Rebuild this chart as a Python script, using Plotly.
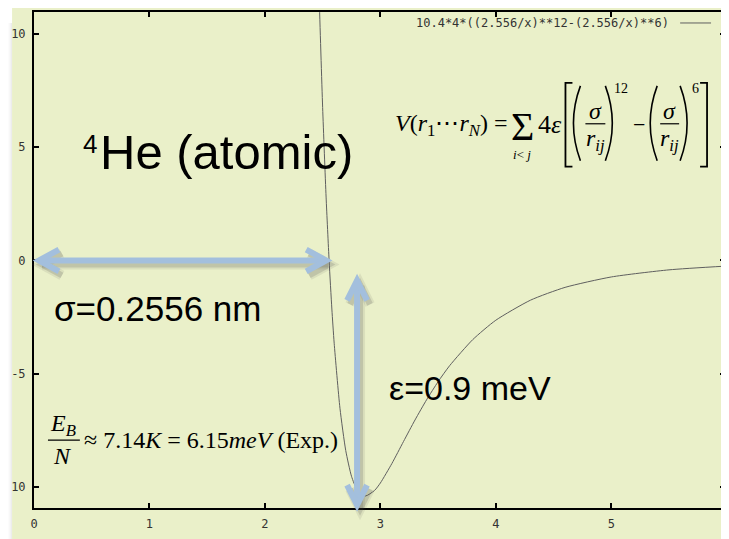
import plotly.graph_objects as go

# ---- data (r in Angstrom, V in K) ----
r_vals = [2.40, 2.45, 2.47, 2.50, 2.53, 2.556, 2.58, 2.60, 2.65, 2.70, 2.75, 2.80,
          2.87, 2.95, 3.00, 3.10, 3.20, 3.30, 3.40, 3.50, 3.60, 3.80, 4.00, 4.30,
          4.60, 5.00, 5.50, 6.00]
v_vals = [27.87, 15.52, 11.65, 6.755, 2.798, 0.0, -2.145, -3.655, -6.525, -8.391,
          -9.529, -10.143, -10.40, -10.154, -9.826, -8.964, -7.998, -7.043, -6.154,
          -5.353, -4.646, -3.496, -2.639, -1.754, -1.188, -0.729, -0.415, -0.247]
x_ticks = [0, 1, 2, 3, 4, 5, 6]
x_tick_labels = ["0", "1", "2", "3", "4", "5", "6"]
y_ticks = [-10, -5, 0, 5, 10]
y_tick_labels = ["10", "-5", "0", "5", "10"]
series_name = "10.4*4*((2.556/x)**12-(2.556/x)**6)"

# ---- layout geometry (page has an 8px body margin; coordinates below are page pixels) ----
OFF = 8
W, H = 729 - OFF, 539 - OFF
L, R, T, B = 34 - OFF, 2, 11 - OFF, 31
PW, PH = W - L - R, H - T - B
BG = "rgb(234,240,201)"
ARROW = "rgb(163,191,221)"


def px(x):
    return (x - OFF - L) / PW


def py(y):
    return (T + PH - (y - OFF)) / PH


fig = go.Figure()
fig.add_trace(go.Scatter(x=r_vals, y=v_vals, mode="lines", name=series_name,
                         line=dict(color="#5f5f5f", width=1, shape="spline", smoothing=0.6),
                         showlegend=False, hoverinfo="skip"))

shapes = []
# background panel and left shadow
shapes.append(dict(type="rect", xref="paper", yref="paper", x0=px(12), x1=px(740),
                   y0=py(7), y1=py(545), fillcolor=BG, line=dict(width=0), layer="below"))
for i, a in enumerate([0.02, 0.03, 0.04, 0.05]):
    shapes.append(dict(type="rect", xref="paper", yref="paper", x0=px(8 + i), x1=px(12),
                       y0=py(22), y1=py(545), fillcolor="rgba(120,120,120,%.2f)" % a,
                       line=dict(width=0), layer="below"))


def pathp(pts):
    return "M " + " L ".join("%.5f,%.5f" % (px(x), py(y)) for x, y in pts)


def seg(pts, color, width):
    shapes.append(dict(type="path", xref="paper", yref="paper", path=pathp(pts),
                       line=dict(color=color, width=width)))


def arrow_set(dx, dy, color, width):
    # horizontal double arrow (r = 0 .. sigma at V = 0)
    seg([(39 + dx, 260 + dy), (326 + dx, 260 + dy)], color, width)
    seg([(59 + dx, 249 + dy), (39 + dx, 260 + dy), (59 + dx, 271 + dy)], color, width)
    seg([(307 + dx, 249 + dy), (327 + dx, 260 + dy), (307 + dx, 271 + dy)], color, width)
    # vertical double arrow (well depth)
    seg([(358 + dx, 281 + dy), (358 + dx, 504 + dy)], color, width)
    seg([(348 + dx, 300 + dy), (358 + dx, 280 + dy), (368 + dx, 300 + dy)], color, width)
    seg([(348 + dx, 485 + dy), (358 + dx, 505 + dy), (368 + dx, 485 + dy)], color, width)


arrow_set(3, 4, "rgba(80,80,80,0.10)", 10)
arrow_set(3, 4, "rgba(80,80,80,0.18)", 6)
arrow_set(0, 0, ARROW, 6)

# legend sample line
shapes.append(dict(type="line", xref="paper", yref="paper", x0=px(682), x1=px(713),
                   y0=py(22), y1=py(22), line=dict(color="#5f5f5f", width=1)))

BLK = "black"


def curve(x_end, x_mid, y0, y1, width=1.6):
    ym = (y0 + y1) / 2
    shapes.append(dict(type="path", xref="paper", yref="paper",
                       path="M %.5f,%.5f Q %.5f,%.5f %.5f,%.5f" % (
                           px(x_end), py(y0), px(x_mid - (x_end - x_mid)), py(ym), px(x_end), py(y1)),
                       line=dict(color=BLK, width=width)))


seg([(574, 82), (567, 82), (567, 166), (574, 166)], BLK, 1.8)
seg([(702, 82), (709, 82), (709, 166), (702, 166)], BLK, 1.8)
curve(582, 575, 85, 160)
curve(607, 614, 85, 160)
curve(659, 652, 85, 160)
curve(682, 689, 85, 160)
seg([(587, 123), (607, 123)], BLK, 1.2)
seg([(662, 123), (681, 123)], BLK, 1.2)
seg([(48, 440), (80, 440)], BLK, 1.2)

fig.update_layout(shapes=shapes)

ann = []


def text(x, y, s, size, family="Liberation Sans", xanchor="left", yanchor="middle", color="black"):
    ann.append(dict(xref="paper", yref="paper", x=px(x), y=py(y), text=s, showarrow=False,
                    xanchor=xanchor, yanchor=yanchor,
                    font=dict(family=family, size=size, color=color)))


SERIF = "Liberation Serif"
# legend text
text(673, 22, series_name, 12, family="DejaVu Sans Mono", xanchor="right", color="#333")
# titles
text(81, 143, "4", 26)
text(98, 151, "He (atomic)", 49)
text(52, 308, "σ=0.2556 nm", 35)
text(388, 388, "ε=0.9 meV", 34)
# formula
text(394, 124, "<i>V</i>(<i>r</i><sub>1</sub>⋯<i>r</i><sub><i>N</i></sub>) =", 24, SERIF)
text(524, 126, "Σ", 40, SERIF, xanchor="center")
text(523, 154, "<i>i</i>< <i>j</i>", 13, SERIF, xanchor="center")
text(537, 124, "4<i>ε</i>", 26, SERIF)
text(597, 110, "<i>σ</i>", 24, SERIF, xanchor="center")
text(597, 139, "<i>r</i><sub><i>ij</i></sub>", 24, SERIF, xanchor="center")
text(614, 88, "12", 14, SERIF)
text(641, 124, "−", 22, SERIF, xanchor="center")
text(671, 110, "<i>σ</i>", 24, SERIF, xanchor="center")
text(671, 139, "<i>r</i><sub><i>ij</i></sub>", 24, SERIF, xanchor="center")
text(692, 88, "6", 14, SERIF)
# binding energy
text(63, 425, "<i>E</i><sub><i>B</i></sub>", 24, SERIF, xanchor="center")
text(63, 456, "<i>N</i>", 24, SERIF, xanchor="center")
text(82, 440, "≈ 7.14<i>K</i> = 6.15<i>meV</i> (Exp.)", 24, SERIF)

fig.update_layout(annotations=ann)

axis_common = dict(showline=True, linecolor="black", linewidth=2, mirror="ticks",
                   ticks="inside", ticklen=5, tickwidth=2, tickcolor="black",
                   showgrid=False, zeroline=False, ticklabelstandoff=4,
                   tickfont=dict(family="DejaVu Sans Mono", size=12, color="#333"))
fig.update_xaxes(range=[0, 5.985], tickvals=x_ticks, ticktext=x_tick_labels, **axis_common)
fig.update_yaxes(range=[-10.93, 10.97], tickvals=y_ticks, ticktext=y_tick_labels, **axis_common)

fig.update_layout(width=W, height=H, margin=dict(l=L, r=R, t=T, b=B, pad=0),
                  paper_bgcolor="white", plot_bgcolor=BG, showlegend=False)

fig.write_html("out.html")
